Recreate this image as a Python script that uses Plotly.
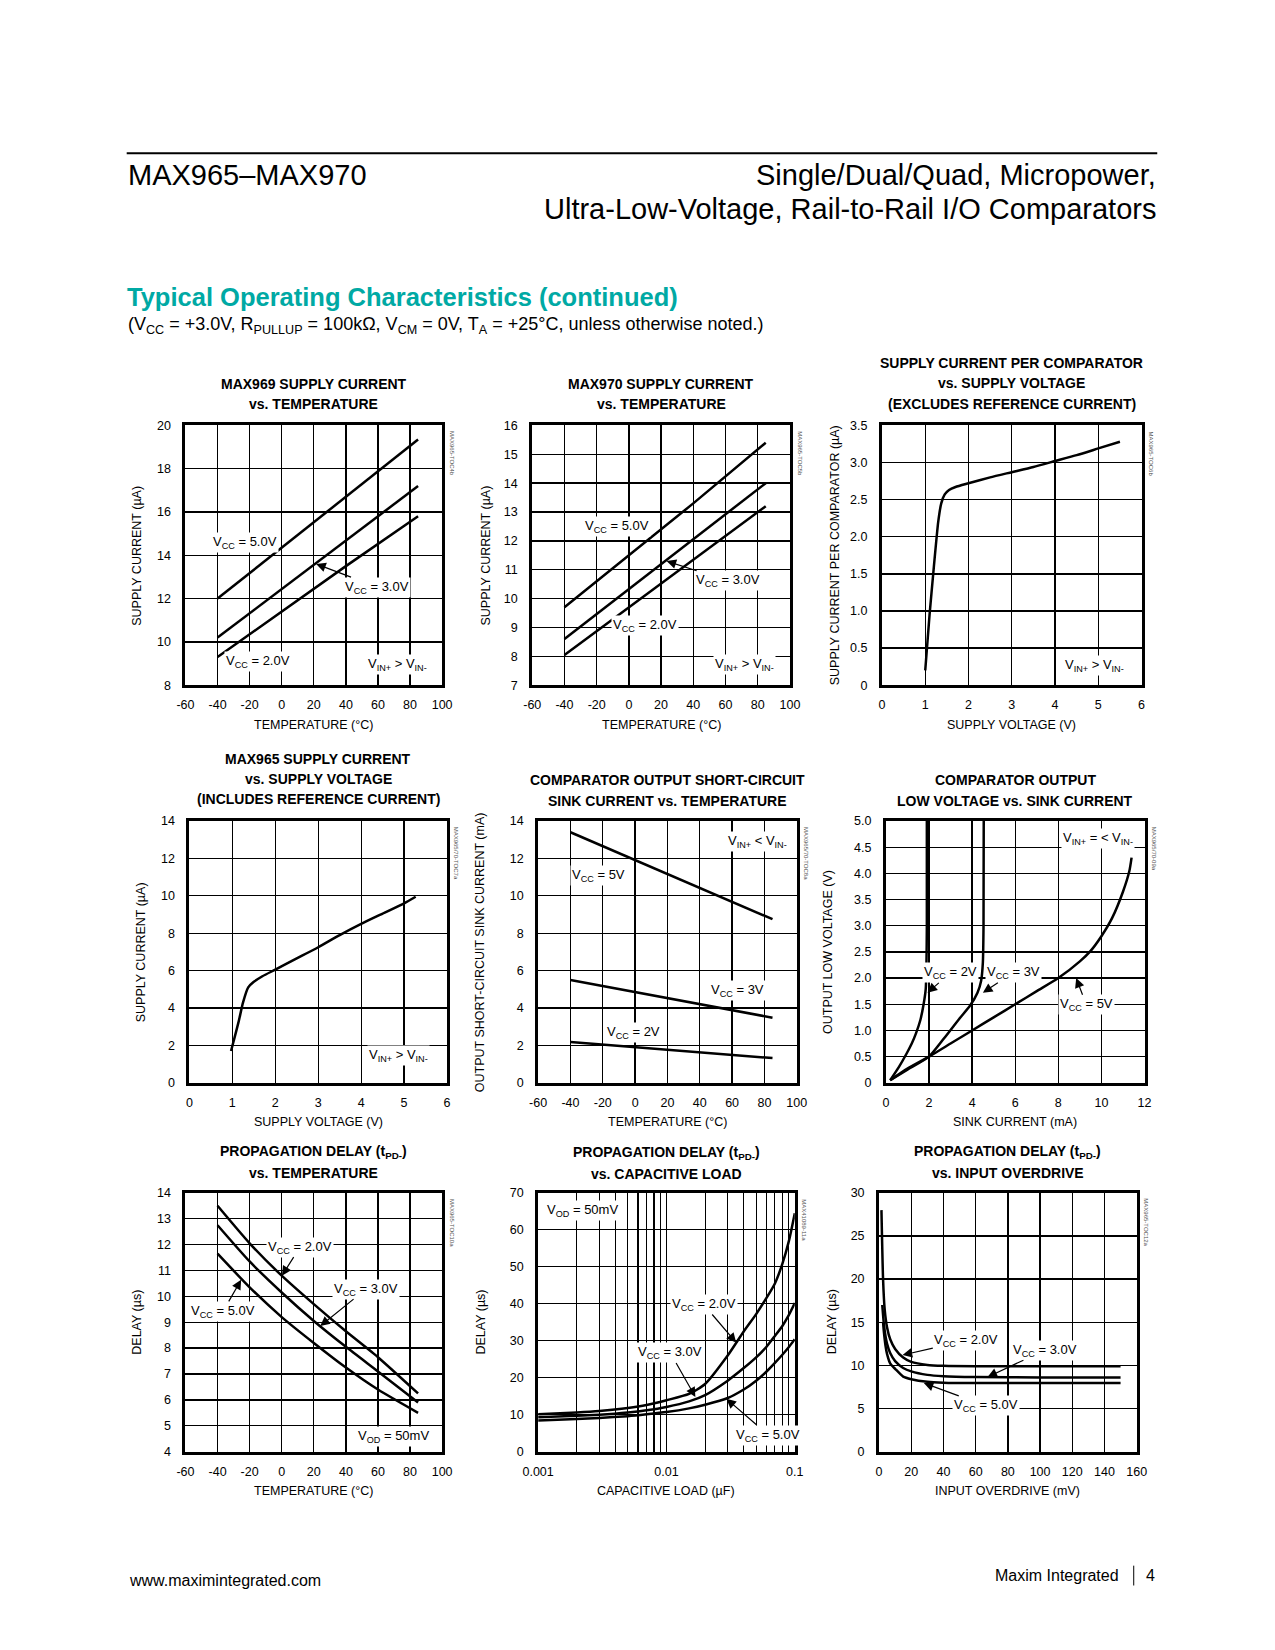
import math
import plotly.graph_objects as go

W, H = 1275, 1650
CH = "'Liberation Sans', Arial, Helvetica, sans-serif"
SANS = "'Liberation Sans', Arial, Helvetica, sans-serif"
TEAL = "#00A9A4"

# ---------------- data ----------------
# 1: MAX969 supply current vs temperature
c1_temp = [-40, 0, 40, 85]
c1_vcc5 = [12.0, 14.35, 16.7, 19.35]
c1_vcc3 = [10.2, 12.45, 14.7, 17.2]
c1_vcc2 = [9.3, 11.4, 13.5, 15.8]

# 2: MAX970 supply current vs temperature
c2_temp = [-40, 0, 40, 85]
c2_vcc5 = [9.7, 11.5, 13.3, 15.4]
c2_vcc3 = [8.6, 10.33, 12.06, 14.0]
c2_vcc2 = [8.05, 9.7, 11.35, 13.2]

# 3: supply current per comparator vs supply voltage
c3_volt = [1.0, 1.1, 1.2, 1.3, 1.37, 1.45, 1.55, 1.7, 2.0, 2.5, 3.0, 3.5, 4.0, 4.5, 5.0, 5.5]
c3_curr = [0.2, 0.95, 1.6, 2.2, 2.45, 2.57, 2.63, 2.67, 2.72, 2.80, 2.87, 2.94, 3.02, 3.10, 3.19, 3.28]

# 4: MAX965 supply current vs supply voltage
c4_volt = [0.97, 1.05, 1.15, 1.25, 1.37, 1.5, 1.7, 2.0, 2.5, 3.0, 3.5, 4.0, 4.5, 5.0, 5.27]
c4_curr = [1.7, 2.4, 3.3, 4.3, 5.1, 5.4, 5.7, 6.05, 6.65, 7.25, 7.9, 8.5, 9.05, 9.6, 9.95]

# 5: output short-circuit sink current vs temperature
c5_temp = [-40, 0, 40, 85]
c5_vcc5 = [13.4, 11.9, 10.4, 8.75]
c5_vcc3 = [5.5, 4.85, 4.2, 3.48]
c5_vcc2 = [2.18, 1.9, 1.63, 1.32]

# 6: output low voltage vs sink current
c6_sink_vcc2 = [0.2, 0.6, 0.95, 1.2, 1.4, 1.6, 1.75, 1.85, 1.88, 1.9, 1.9]
c6_vol_vcc2 = [0.05, 0.3, 0.55, 0.75, 0.95, 1.2, 1.5, 1.8, 2.2, 3.0, 5.0]
c6_sink_vcc3 = [0.2, 1.0, 2.0, 2.7, 3.4, 3.9, 4.25, 4.42, 4.5, 4.53, 4.54]
c6_vol_vcc3 = [0.05, 0.25, 0.5, 0.85, 1.22, 1.47, 1.72, 1.95, 2.3, 3.0, 5.0]
c6_sink_vcc5 = [0.2, 1, 2, 3, 4, 5, 6, 7, 8, 9, 9.5, 10, 10.5, 11, 11.3, 11.4]
c6_vol_vcc5 = [0.05, 0.27, 0.5, 0.75, 1.0, 1.25, 1.5, 1.75, 2.0, 2.32, 2.52, 2.8, 3.15, 3.65, 4.05, 4.3]

# 7: propagation delay vs temperature
c7_temp = [-40, -20, 0, 20, 40, 60, 85]
c7_vcc2 = [13.5, 12.05, 10.8, 9.7, 8.65, 7.65, 6.25]
c7_vcc3 = [12.75, 11.35, 10.15, 9.05, 8.05, 7.1, 5.9]
c7_vcc5 = [11.65, 10.35, 9.2, 8.2, 7.25, 6.4, 5.5]

# 8: propagation delay vs capacitive load
c8_load = [0.001, 0.002, 0.003, 0.005, 0.007, 0.01, 0.015, 0.02, 0.03, 0.04, 0.05, 0.06, 0.07, 0.08, 0.09, 0.1]
c8_vcc2 = [10.1, 10.6, 11.0, 11.8, 12.6, 13.9, 15.6, 18.3, 26.0, 32.5, 37.2, 41.5, 45.5, 50.8, 57.0, 64.5]
c8_vcc3 = [9.3, 9.7, 10.0, 10.6, 11.2, 12.1, 13.6, 15.3, 19.2, 22.6, 25.5, 28.3, 31.3, 34.0, 37.0, 40.2]
c8_vcc5 = [8.4, 8.8, 9.1, 9.6, 10.1, 10.7, 11.7, 12.7, 14.5, 16.8, 19.2, 21.6, 24.0, 26.2, 28.3, 30.4]

# 9: propagation delay vs input overdrive
c9_od_vcc2 = [1.5, 2.5, 3.5, 5, 7, 10, 15, 20, 30, 40, 60, 100, 150]
c9_vcc2 = [28, 20, 16.5, 14.4, 13.0, 11.9, 10.9, 10.4, 10.05, 9.95, 9.9, 9.9, 9.9]
c9_od_vcc3 = [2, 3, 4, 5, 7, 10, 15, 20, 30, 40, 60, 100, 150]
c9_vcc3 = [17, 14.8, 13.4, 12.5, 11.4, 10.5, 9.7, 9.3, 8.9, 8.75, 8.65, 8.6, 8.6]
c9_od_vcc5 = [2.5, 3, 4, 5, 7, 10, 15, 20, 30, 40, 60, 100, 150]
c9_vcc5 = [15, 13.9, 12.3, 11.3, 10.2, 9.6, 8.7, 8.4, 8.1, 8.0, 7.95, 7.95, 7.95]

# tick labels
temp_ticks = [-60, -40, -20, 0, 20, 40, 60, 80, 100]
temp_ticktext = ["-60", "-40", "-20", "0", "20", "40", "60", "80", "100"]
volt_ticks = [0, 1, 2, 3, 4, 5, 6]
c3_yticks = [0, 0.5, 1.0, 1.5, 2.0, 2.5, 3.0, 3.5]
c3_ytext = ["0", "0.5", "1.0", "1.5", "2.0", "2.5", "3.0", "3.5"]
c6_yticks = [0, 0.5, 1.0, 1.5, 2.0, 2.5, 3.0, 3.5, 4.0, 4.5, 5.0]
c6_ytext = ["0", "0.5", "1.0", "1.5", "2.0", "2.5", "3.0", "3.5", "4.0", "4.5", "5.0"]
c8_xticks = [0.001, 0.01, 0.1]
c8_xtext = ["0.001", "0.01", "0.1"]

# ---------------- layout helpers ----------------
# plot boxes in page pixels: left, top, right, bottom
boxes = {
    1: (173, 422, 435, 684), 2: (527, 422, 790, 684), 3: (884, 422, 1149, 684),
    4: (177, 821, 440, 1085), 5: (533, 821, 797, 1085), 6: (888, 821, 1152, 1085),
    7: (173, 1196, 435, 1457), 8: (533, 1196, 795, 1457), 9: (881, 1196, 1144, 1457),
}

def px(x):
    return x / W

def py(y):
    return 1 - y / H

fig = go.Figure()
layout = dict(width=W, height=H, margin=dict(l=0, r=0, t=0, b=0),
              paper_bgcolor="white", plot_bgcolor="white", showlegend=False)

def axis_common():
    return dict(showline=True, mirror=True, linecolor="black", linewidth=3,
                showgrid=True, gridcolor="black", gridwidth=1.3, zeroline=False,
                ticks="outside", ticklen=6, tickcolor="rgba(0,0,0,0)",
                tickfont=dict(family=CH, size=12.5, color="black"), fixedrange=True)

xcfg = {
    1: dict(range=[-60, 100], tickvals=temp_ticks, ticktext=temp_ticktext),
    2: dict(range=[-60, 100], tickvals=temp_ticks, ticktext=temp_ticktext),
    3: dict(range=[0, 6], tickvals=volt_ticks),
    4: dict(range=[0, 6], tickvals=volt_ticks),
    5: dict(range=[-60, 100], tickvals=temp_ticks, ticktext=temp_ticktext),
    6: dict(range=[0, 12], tickvals=list(range(0, 13, 2))),
    7: dict(range=[-60, 100], tickvals=temp_ticks, ticktext=temp_ticktext),
    8: dict(type="log", range=[-3, -1], tickvals=c8_xticks, ticktext=c8_xtext,
            minor=dict(showgrid=True, gridcolor="black", gridwidth=1.1,
                       tickvals=[k * 10 ** e for e in (-3, -2) for k in range(2, 10)])),
    9: dict(range=[0, 160], tickvals=list(range(0, 161, 20))),
}
ycfg = {
    1: dict(range=[8, 20], tickvals=list(range(8, 21, 2))),
    2: dict(range=[7, 16], tickvals=list(range(7, 17))),
    3: dict(range=[0, 3.5], tickvals=c3_yticks, ticktext=c3_ytext),
    4: dict(range=[0, 14], tickvals=list(range(0, 15, 2))),
    5: dict(range=[0, 14], tickvals=list(range(0, 15, 2))),
    6: dict(range=[0, 5], tickvals=c6_yticks, ticktext=c6_ytext),
    7: dict(range=[4, 14], tickvals=list(range(4, 15))),
    8: dict(range=[0, 70], tickvals=list(range(0, 71, 10))),
    9: dict(range=[0, 30], tickvals=list(range(0, 31, 5))),
}

for i, (l, t, r, b) in boxes.items():
    xa = axis_common()
    xa.update(xcfg[i])
    xa.update(domain=[px(l), px(r)], anchor="y" if i == 1 else f"y{i}")
    ya = axis_common()
    ya.update(ycfg[i])
    ya.update(domain=[py(b), py(t)], anchor="x" if i == 1 else f"x{i}")
    ya["ticklen"] = 9
    layout["xaxis" if i == 1 else f"xaxis{i}"] = xa
    layout["yaxis" if i == 1 else f"yaxis{i}"] = ya

def add_line(i, x, y, shape="linear"):
    fig.add_trace(go.Scatter(x=x, y=y, mode="lines",
                             line=dict(color="black", width=2.5, shape=shape, smoothing=0.6),
                             xaxis="x" if i == 1 else f"x{i}", yaxis="y" if i == 1 else f"y{i}",
                             hoverinfo="skip"))

add_line(1, c1_temp, c1_vcc5); add_line(1, c1_temp, c1_vcc3); add_line(1, c1_temp, c1_vcc2)
add_line(2, c2_temp, c2_vcc5); add_line(2, c2_temp, c2_vcc3); add_line(2, c2_temp, c2_vcc2)
add_line(3, c3_volt, c3_curr, "spline")
add_line(4, c4_volt, c4_curr, "spline")
add_line(5, c5_temp, c5_vcc5); add_line(5, c5_temp, c5_vcc3); add_line(5, c5_temp, c5_vcc2)
add_line(6, c6_sink_vcc2, c6_vol_vcc2, "spline")
add_line(6, c6_sink_vcc3, c6_vol_vcc3, "spline")
add_line(6, c6_sink_vcc5, c6_vol_vcc5, "spline")
add_line(7, c7_temp, c7_vcc2, "spline"); add_line(7, c7_temp, c7_vcc3, "spline"); add_line(7, c7_temp, c7_vcc5, "spline")
add_line(8, c8_load, c8_vcc2, "spline"); add_line(8, c8_load, c8_vcc3, "spline"); add_line(8, c8_load, c8_vcc5, "spline")
add_line(9, c9_od_vcc2, c9_vcc2, "spline"); add_line(9, c9_od_vcc3, c9_vcc3, "spline"); add_line(9, c9_od_vcc5, c9_vcc5, "spline")

ann = []
shapes = []

# ---------- page header / footer ----------
shapes.append(dict(type="line", xref="paper", yref="paper", x0=px(113), x1=px(1165),
                   y0=py(147.5), y1=py(147.5), line=dict(color="black", width=2)))
ann.append(dict(text="MAX965–MAX970", x=px(112), y=py(169), xanchor="left", yanchor="middle",
                font=dict(family=SANS, size=29, color="black")))
ann.append(dict(text="Single/Dual/Quad, Micropower,", x=px(1166), y=py(169), xanchor="right",
                yanchor="middle", font=dict(family=SANS, size=29, color="black")))
ann.append(dict(text="Ultra-Low-Voltage, Rail-to-Rail I/O Comparators", x=px(1166), y=py(204),
                xanchor="right", yanchor="middle", font=dict(family=SANS, size=29, color="black")))
ann.append(dict(text="<b>Typical Operating Characteristics (continued)</b>", x=px(111), y=py(292),
                xanchor="left", yanchor="middle", font=dict(family=SANS, size=25.5, color=TEAL)))
ann.append(dict(text="(V<sub>CC</sub> = +3.0V, R<sub>PULLUP</sub> = 100kΩ, V<sub>CM</sub> = 0V, "
                     "T<sub>A</sub> = +25°C, unless otherwise noted.)",
                x=px(112), y=py(321), xanchor="left", yanchor="middle",
                font=dict(family=SANS, size=18, color="black")))
ann.append(dict(text="www.maximintegrated.com", x=px(113), y=py(1587), xanchor="left", yanchor="middle",
                font=dict(family=SANS, size=16, color="black")))
ann.append(dict(text="Maxim Integrated", x=px(1128), y=py(1582), xanchor="right", yanchor="middle",
                font=dict(family=SANS, size=16, color="black")))
ann.append(dict(text="4", x=px(1165), y=py(1582), xanchor="right", yanchor="middle",
                font=dict(family=SANS, size=16, color="black")))
shapes.append(dict(type="line", xref="paper", yref="paper", x0=px(1141), x1=px(1141),
                   y0=py(1572), y1=py(1592), line=dict(color="black", width=1)))

# ---------- chart titles (one annotation per line) ----------
titles = {
    1: (["MAX969 SUPPLY CURRENT", "vs. TEMPERATURE"], 380),
    2: (["MAX970 SUPPLY CURRENT", "vs. TEMPERATURE"], 380),
    3: (["SUPPLY CURRENT PER COMPARATOR", "vs. SUPPLY VOLTAGE", "(EXCLUDES REFERENCE CURRENT)"], 359),
    4: (["MAX965 SUPPLY CURRENT", "vs. SUPPLY VOLTAGE", "(INCLUDES REFERENCE CURRENT)"], 758),
    5: (["COMPARATOR OUTPUT SHORT-CIRCUIT", "SINK CURRENT vs. TEMPERATURE"], 780),
    6: (["COMPARATOR OUTPUT", "LOW VOLTAGE vs. SINK CURRENT"], 780),
    7: (["PROPAGATION DELAY (t<sub>PD-</sub>)", "vs. TEMPERATURE"], 1155),
    8: (["PROPAGATION DELAY (t<sub>PD-</sub>)", "vs. CAPACITIVE LOAD"], 1156),
    9: (["PROPAGATION DELAY (t<sub>PD-</sub>)", "vs. INPUT OVERDRIVE"], 1155),
}
for i, (lines, y0) in titles.items():
    l, t, r, b = boxes[i]
    for k, txt in enumerate(lines):
        ann.append(dict(text=f"<b>{txt}</b>", x=px((l + r) / 2), y=py(y0 + k * 20.5), xanchor="center",
                        yanchor="middle", font=dict(family=CH, size=14, color="black")))

# ---------- axis titles ----------
xtitles = {1: "TEMPERATURE (°C)", 2: "TEMPERATURE (°C)", 3: "SUPPLY VOLTAGE (V)",
           4: "SUPPLY VOLTAGE (V)", 5: "TEMPERATURE (°C)", 6: "SINK CURRENT (mA)",
           7: "TEMPERATURE (°C)", 8: "CAPACITIVE LOAD (µF)", 9: "INPUT OVERDRIVE (mV)"}
ytitles = {1: ("SUPPLY CURRENT (µA)", 124), 2: ("SUPPLY CURRENT (µA)", 480),
           3: ("SUPPLY CURRENT PER COMPARATOR (µA)", 836), 4: ("SUPPLY CURRENT (µA)", 128),
           5: ("OUTPUT SHORT-CIRCUIT SINK CURRENT (mA)", 474), 6: ("OUTPUT LOW VOLTAGE (V)", 829),
           7: ("DELAY (µs)", 124), 8: ("DELAY (µs)", 475), 9: ("DELAY (µs)", 833)}
marks = {1: "MAX965-TOC4b", 2: "MAX965-TOC5b", 3: "MAX965-TOC6b", 4: "MAX965/70-TOC7a",
         5: "MAX965/70-TOC8a", 6: "MAX965/70-09a", 7: "MAX965-TOC10a", 8: "MAX41089-11a",
         9: "MAX965-TOC12a"}
for i, (l, t, r, b) in boxes.items():
    ann.append(dict(text=xtitles[i], x=px((l + r) / 2), y=py(b + 40), xanchor="center", yanchor="middle",
                    font=dict(family=CH, size=12.5, color="black")))
    ytxt, yx = ytitles[i]
    ann.append(dict(text=ytxt, x=px(yx), y=py((t + b) / 2), xanchor="center", yanchor="middle",
                    textangle=-90, font=dict(family=CH, size=12.5, color="black")))
    ann.append(dict(text=marks[i], x=px(r + 10), y=py(t + 4), xanchor="center", yanchor="top",
                    textangle=90, font=dict(family=SANS, size=6, color="#555555")))

# ---------- in-plot labels ----------
def ref(i):
    return ("x" if i == 1 else f"x{i}", "y" if i == 1 else f"y{i}")

def label(i, text, x, y, tip=None, log=False):
    xr, yr = ref(i)
    fx = (lambda v: math.log10(v)) if log else (lambda v: v)
    d = dict(text=text, xref=xr, yref=yr, bgcolor="white", borderpad=1,
             font=dict(family=CH, size=13, color="black"), xanchor="center", yanchor="middle")
    if tip is None:
        d.update(x=fx(x), y=y, showarrow=False)
    else:
        d.update(x=fx(tip[0]), y=tip[1], ax=fx(x), ay=y, axref=xr, ayref=yr, showarrow=True,
                 arrowhead=2, arrowsize=1.6, arrowwidth=1.2, arrowcolor="black")
    ann.append(d)

VCC = "V<sub>CC</sub> = "
GT = "V<sub>IN+</sub> > V<sub>IN-</sub>"
label(1, VCC + "5.0V", -23, 14.6)
label(1, VCC + "3.0V", 59.7, 12.53, tip=(21.5, 13.6))
label(1, VCC + "2.0V", -15, 9.1)
label(1, GT, 72, 8.95)
label(2, VCC + "5.0V", -7.3, 12.5)
label(2, VCC + "3.0V", 61.5, 10.62, tip=(23.4, 11.3))
label(2, VCC + "2.0V", 9.9, 9.08)
label(2, GT, 71.6, 7.7)
label(3, GT, 4.92, 0.27)
label(4, GT, 4.87, 1.45)
label(5, VCC + "5V", -22.6, 11.07)
label(5, "V<sub>IN+</sub> < V<sub>IN-</sub>", 75.8, 12.93)
label(5, VCC + "3V", 63.4, 4.93)
label(5, VCC + "2V", -1.2, 2.71)
label(6, "V<sub>IN+</sub> = < V<sub>IN-</sub>", 9.83, 4.66)
label(6, VCC + "2V", 2.99, 2.1, tip=(1.93, 1.72))
label(6, VCC + "3V", 5.9, 2.1, tip=(4.5, 1.72))
label(6, VCC + "5V", 9.3, 1.49, tip=(8.83, 2.0))
label(7, VCC + "2.0V", 11.4, 11.9, tip=(0.14, 10.8))
label(7, VCC + "3.0V", 52.5, 10.28, tip=(24, 8.85))
label(7, VCC + "5.0V", -36.6, 9.42, tip=(-25.3, 10.64))
label(7, "V<sub>OD</sub> = 50mV", 69.5, 4.6)
label(8, "V<sub>OD</sub> = 50mV", 0.00223, 65.2, log=True)
label(8, VCC + "2.0V", 0.0195, 39.8, tip=(0.0349, 29.5), log=True)
label(8, VCC + "3.0V", 0.01074, 26.7, tip=(0.0168, 14.8), log=True)
label(8, VCC + "5.0V", 0.0622, 4.5, tip=(0.0293, 14.3), log=True)
label(9, VCC + "2.0V", 54.2, 12.9, tip=(14.6, 11.2))
label(9, VCC + "3.0V", 102.9, 11.76, tip=(67.4, 8.65))
label(9, VCC + "5.0V", 66.4, 5.3, tip=(27.8, 7.95))

for a in ann:
    a.setdefault("xref", "paper")
    a.setdefault("yref", "paper")
    a.setdefault("showarrow", False)

layout["annotations"] = ann
layout["shapes"] = shapes
fig.update_layout(**layout)

PAGE_FIX = (
    "document.documentElement.style.margin='0';"
    "document.documentElement.style.padding='0';"
    "document.body.style.margin='0';"
    "document.body.style.padding='0';"
    "document.body.style.overflow='hidden';"
    "var gd=document.getElementById('{plot_id}');"
    "if(gd){gd.style.position='absolute';gd.style.left='0px';gd.style.top='0px';"
    "if(gd.parentNode){gd.parentNode.style.margin='0';}}"
)
fig.write_html("out.html", config={"displayModeBar": False, "staticPlot": True},
               post_script=PAGE_FIX)
